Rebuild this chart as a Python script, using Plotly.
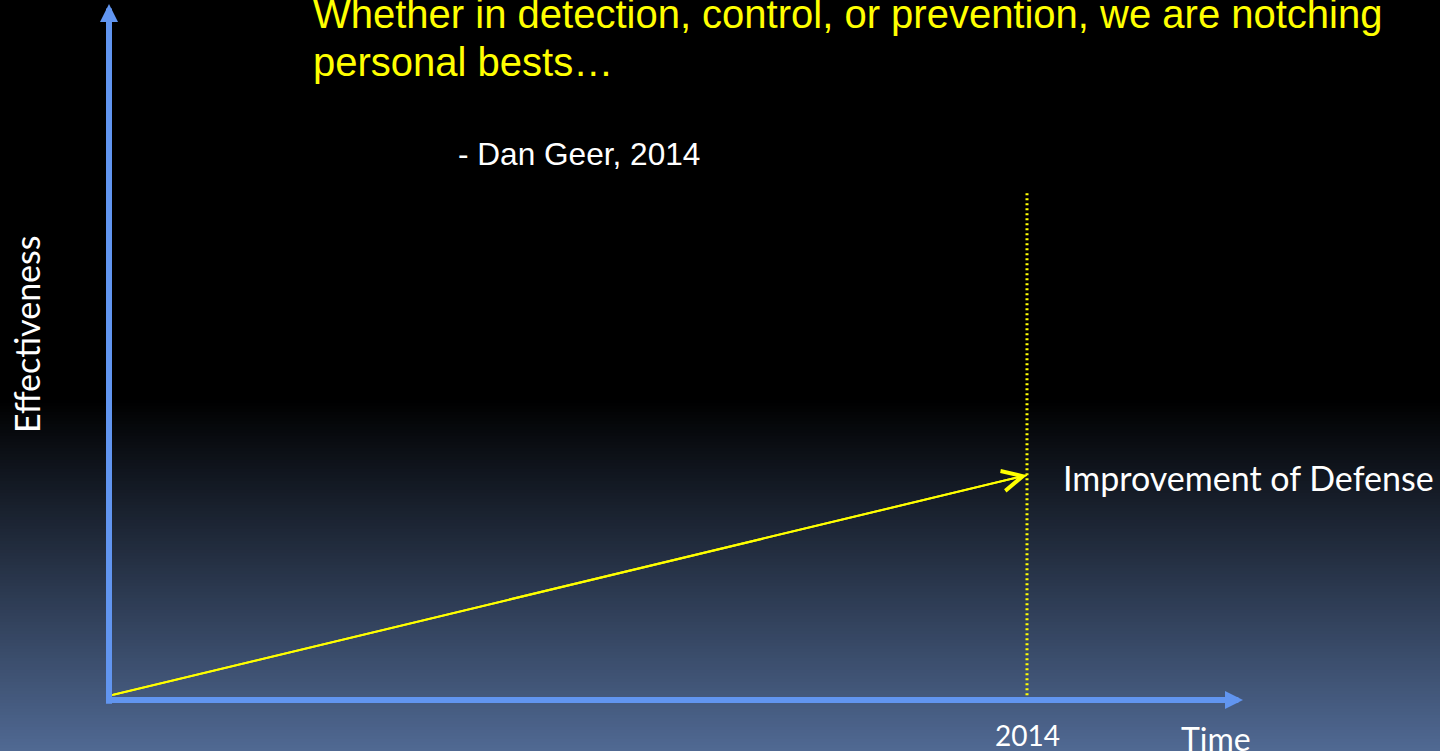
import plotly.graph_objects as go

# ---- data (relative time: 0 = origin, 1.0 = 2014; effectiveness 0..1) ----
TIME = [0.003, 1.0]
EFFECTIVENESS = [0.007, 0.324]
MARKER_TIME = [1.0, 1.0]
MARKER_LEVEL = [0.007, 0.732]
MARKER_LABEL = "2014"
SERIES_LABEL = "Improvement of Defense"
X_TITLE = "Time"
Y_TITLE = "Effectiveness"
QUOTE_1 = "Whether in detection, control, or prevention, we are notching"
QUOTE_2 = "personal bests…"
QUOTE_AUTHOR = "- Dan Geer, 2014"

W, H = 1440, 751
X_RANGE = [-0.11874, 1.44989]
Y_RANGE = [-0.07349, 1.008646]
X_AXIS_END = 1.2353
Y_AXIS_END = 1.0

AXIS_BLUE = "#6195f0"
YELLOW = "#ffff00"

fig = go.Figure()

# background gradient (black top -> slate blue bottom)
def lerp(c0, c1, t):
    return tuple(round(a + (b - a) * t) for a, b in zip(c0, c1))

top_px, n_bands = 400, 117
c0, c1 = (0, 0, 0), (80, 105, 147)
band = (H - top_px) / n_bands
shapes = []
for i in range(n_bands):
    y0 = top_px + i * band
    y1 = y0 + band + 0.6
    t = (i + 0.5) / n_bands
    r, g, b = lerp(c0, c1, t)
    shapes.append(dict(type="rect", xref="paper", yref="paper",
                       x0=0, x1=1, y0=1 - y1 / H, y1=1 - y0 / H,
                       fillcolor=f"rgb({r},{g},{b})", line=dict(width=0),
                       layer="below"))

# dotted marker line at 2014
fig.add_trace(go.Scatter(x=MARKER_TIME, y=MARKER_LEVEL, mode="lines",
                         line=dict(color=YELLOW, width=3, dash="2px,3px"),
                         hoverinfo="skip", showlegend=False))
# improvement line
fig.add_trace(go.Scatter(x=TIME, y=EFFECTIVENESS, mode="lines",
                         line=dict(color=YELLOW, width=2),
                         hoverinfo="skip", showlegend=False))

annotations = [
    # y axis arrow
    dict(x=0, y=Y_AXIS_END + 0.003, ax=0, ay=Y_RANGE[0] + 0.066, xref="x", yref="y",
         axref="x", ayref="y", text="", showarrow=True, arrowhead=2,
         arrowwidth=6, arrowsize=0.6, arrowcolor=AXIS_BLUE, standoff=0),
    # x axis arrow
    dict(x=X_AXIS_END, y=0, ax=-0.004, ay=0, xref="x", yref="y",
         axref="x", ayref="y", text="", showarrow=True, arrowhead=2,
         arrowwidth=6, arrowsize=0.6, arrowcolor=AXIS_BLUE, standoff=0),
    # open arrowhead on improvement line
    dict(x=TIME[-1], y=EFFECTIVENESS[-1], ax=TIME[0], ay=EFFECTIVENESS[0],
         xref="x", yref="y", axref="x", ayref="y", text="", showarrow=True,
         arrowhead=5, arrowwidth=2, arrowsize=2, arrowcolor=YELLOW, standoff=0),
    # texts
    dict(x=311 / W, y=1 + 10 / H, xref="paper", yref="paper", xanchor="left",
         yanchor="top", text=QUOTE_1, showarrow=False,
         font=dict(family="Liberation Sans, Arial", size=40, color=YELLOW)),
    dict(x=311 / W, y=1 - 38 / H, xref="paper", yref="paper", xanchor="left",
         yanchor="top", text=QUOTE_2, showarrow=False,
         font=dict(family="Liberation Sans, Arial", size=40, color=YELLOW)),
    dict(x=456 / W, y=1 - 134 / H, xref="paper", yref="paper", xanchor="left",
         yanchor="top", text=QUOTE_AUTHOR, showarrow=False,
         font=dict(family="Liberation Sans, Arial", size=31.6, color="white")),
    dict(x=1061 / W, y=1 - 477 / H, xref="paper", yref="paper", xanchor="left",
         yanchor="middle", text=SERIES_LABEL, showarrow=False,
         font=dict(family="Lato", size=34, color="white")),
    dict(x=MARKER_TIME[0], y=1 - 735 / H, xref="x", yref="paper", xanchor="center",
         yanchor="middle", text=MARKER_LABEL, showarrow=False,
         font=dict(family="Lato", size=28, color="white")),
    dict(x=1216 / W, y=1 - 738 / H, xref="paper", yref="paper", xanchor="center",
         yanchor="middle", text=X_TITLE, showarrow=False,
         font=dict(family="Lato", size=32, color="white")),
    dict(x=27 / W, y=1 - 334 / H, xref="paper", yref="paper", xanchor="center",
         yanchor="middle", text=Y_TITLE, showarrow=False, textangle=-90,
         font=dict(family="Lato", size=34, color="white")),
]

fig.update_layout(
    width=W, height=H,
    margin=dict(l=0, r=0, t=0, b=0),
    paper_bgcolor="#000000", plot_bgcolor="rgba(0,0,0,0)",
    xaxis=dict(range=X_RANGE, visible=False, fixedrange=True),
    yaxis=dict(range=Y_RANGE, visible=False, fixedrange=True),
    shapes=shapes, annotations=annotations, showlegend=False,
)

fig.write_html("out.html", config={"displayModeBar": False},
               post_script="document.body.style.margin='0';"
                           "document.body.style.overflow='hidden';")
